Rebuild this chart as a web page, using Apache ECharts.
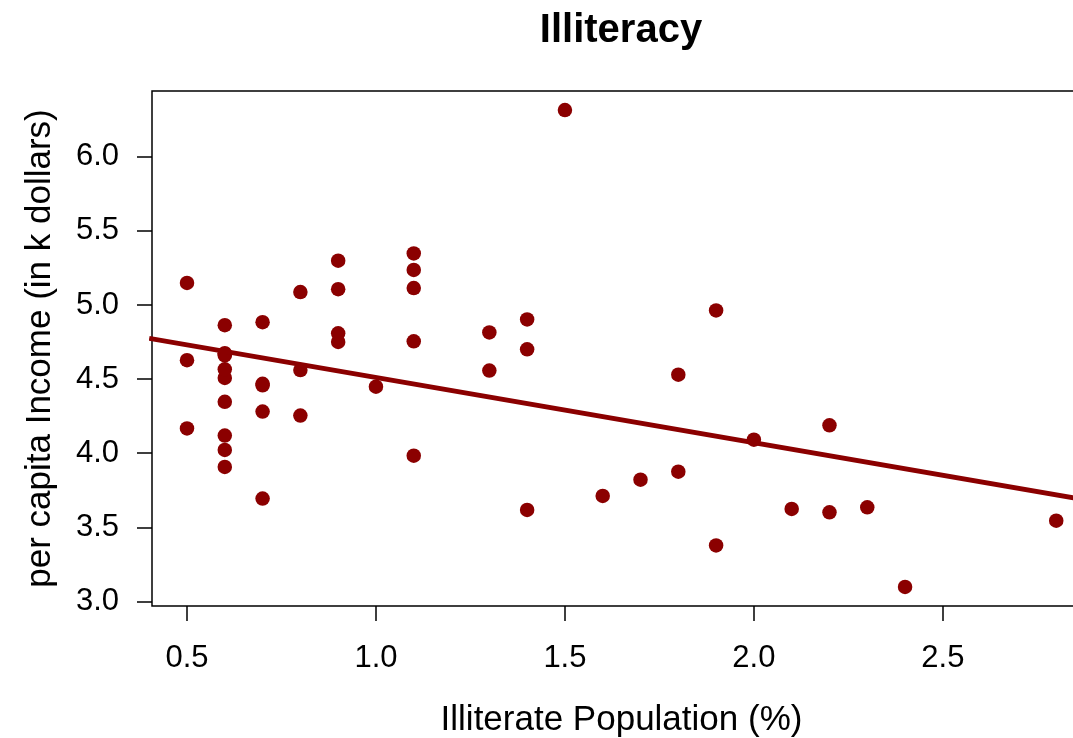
<!DOCTYPE html>
<html><head><meta charset="utf-8">
<script src="https://cdn.jsdelivr.net/npm/echarts@6/dist/echarts.min.js"></script>
<style>html,body{margin:0;padding:0;background:#fff}#c{width:1073px;height:738px}</style>
</head><body><div id="c"></div>
<script>
// Illiteracy (%) and per capita income (k dollars), 50 US states
const illiteracy = [2.1,1.5,1.8,1.9,1.1,0.7,1.1,0.9,1.3,2.0,1.9,0.6,0.9,0.7,0.5,0.6,1.6,2.8,0.7,0.9,1.1,0.9,0.6,2.4,0.8,0.6,0.6,0.5,0.7,1.1,2.2,1.4,1.8,0.8,0.8,1.1,0.6,1.0,1.3,2.3,0.5,1.7,2.2,0.6,0.6,1.4,0.6,1.4,0.7,0.6];
const income = [3.624,6.315,4.530,3.378,5.114,4.884,5.348,4.809,4.815,4.091,4.963,4.119,5.107,4.458,4.628,4.669,3.712,3.545,3.694,5.299,4.755,4.751,4.675,3.098,4.254,4.347,4.508,5.149,4.281,5.237,3.601,4.903,3.875,5.087,4.561,3.983,4.660,4.449,4.558,3.635,4.167,3.821,4.188,4.022,3.907,4.701,4.864,3.617,4.468,4.566];
// fitted line endpoints
const fitX = [0.40, 2.90];
const fitY = [4.775, 3.675];
const xTicks = [0.5, 1.0, 1.5, 2.0, 2.5];
const yTicks = [3.0, 3.5, 4.0, 4.5, 5.0, 5.5, 6.0];

const FONT = '"Liberation Sans", Arial, sans-serif';
const RED = '#8B0000';
const chart = echarts.init(document.getElementById('c'));
chart.setOption({
  animation: false,
  title: {
    text: 'Illiteracy', left: 616, top: 6, textAlign: 'center',
    textStyle: {fontFamily: FONT, fontWeight: 'bold', fontSize: 40, color: '#000'}
  },
  grid: {left: 152, top: 91, width: 939, height: 515, outerBoundsMode: 'none', containLabel: false,
         show: true, borderColor: '#000', borderWidth: 1.5, backgroundColor: 'transparent'},
  xAxis: {
    type: 'value', min: 0.4074, max: 2.892,
    name: 'Illiterate Population (%)', nameLocation: 'middle', nameGap: 97,
    nameTextStyle: {fontFamily: FONT, fontSize: 35, color: '#000'},
    axisLine: {show: false},
    axisTick: {show: true, length: 15, customValues: xTicks, lineStyle: {color: '#000', width: 1.5}},
    axisLabel: {customValues: xTicks, margin: 37, fontFamily: FONT, fontSize: 31, color: '#000', formatter: v => v.toFixed(1)},
    splitLine: {show: false}
  },
  yAxis: {
    type: 'value', min: 2.969, max: 6.444,
    name: 'per capita Income (in k dollars)', nameLocation: 'middle', nameGap: 94,
    nameTextStyle: {fontFamily: FONT, fontSize: 35, color: '#000'},
    axisLine: {show: false},
    axisTick: {show: true, length: 15, customValues: yTicks, lineStyle: {color: '#000', width: 1.5}},
    axisLabel: {customValues: yTicks, margin: 33, fontFamily: FONT, fontSize: 31, color: '#000', formatter: v => v.toFixed(1)},
    splitLine: {show: false}
  },
  series: [
    {
      type: 'scatter', symbol: 'circle', symbolSize: 14.5,
      itemStyle: {color: RED, opacity: 1},
      data: illiteracy.map((x, i) => [x, income[i]])
    },
    {
      type: 'line', symbol: 'none', clip: true,
      lineStyle: {color: RED, width: 5},
      data: fitX.map((x, i) => [x, fitY[i]])
    }
  ]
});
</script></body></html>
